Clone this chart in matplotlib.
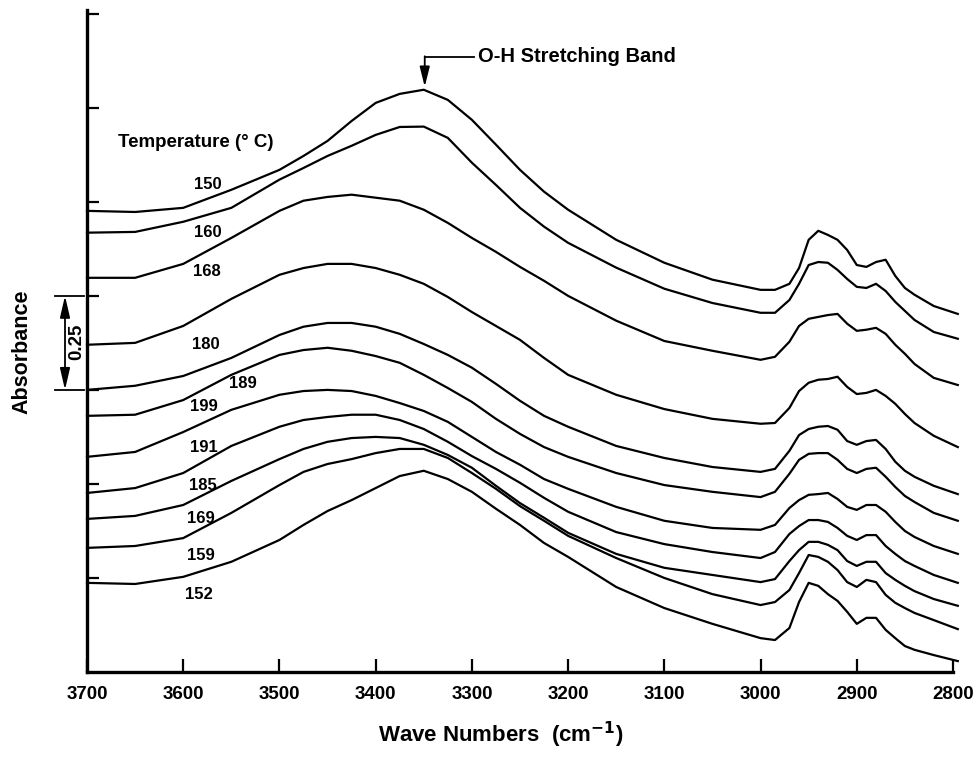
import matplotlib
matplotlib.use('Agg')
import matplotlib.pyplot as plt
from matplotlib.transforms import blended_transform_factory

plt.rcParams['font.family'] = ['Liberation Sans', 'DejaVu Sans']
plt.rcParams['font.weight'] = 'bold'

# wave numbers (cm-1) at which the spectra were read
wavenumber = [3700, 3650, 3600, 3550, 3500, 3475, 3450, 3425, 3400, 3375,
              3350, 3325, 3300, 3275, 3250, 3225, 3200, 3150, 3100, 3050,
              3000, 2985, 2970, 2960, 2950, 2940, 2930, 2920, 2910, 2900,
              2890, 2880, 2870, 2860, 2850, 2840, 2820, 2795]

# absorbance of each trace, top to bottom (offset stack)
a150 = [1.226, 1.223, 1.234, 1.282, 1.335, 1.372, 1.412, 1.465, 1.513, 1.537,
        1.548, 1.521, 1.468, 1.402, 1.335, 1.277, 1.229, 1.149, 1.088, 1.043,
        1.016, 1.016, 1.032, 1.074, 1.149, 1.173, 1.162, 1.149, 1.122, 1.082,
        1.077, 1.090, 1.096, 1.053, 1.021, 1.003, 0.973, 0.952]
a160 = [1.168, 1.170, 1.197, 1.234, 1.309, 1.340, 1.372, 1.399, 1.428, 1.449,
        1.450, 1.420, 1.354, 1.295, 1.234, 1.184, 1.141, 1.075, 1.019, 0.981,
        0.955, 0.955, 0.989, 1.032, 1.082, 1.090, 1.088, 1.069, 1.045, 1.024,
        1.021, 1.032, 1.013, 0.984, 0.960, 0.936, 0.904, 0.886]
a168 = [1.048, 1.048, 1.085, 1.154, 1.226, 1.253, 1.263, 1.269, 1.261, 1.253,
        1.229, 1.194, 1.154, 1.117, 1.077, 1.040, 1.000, 0.934, 0.880, 0.854,
        0.830, 0.838, 0.878, 0.920, 0.939, 0.944, 0.949, 0.952, 0.926, 0.907,
        0.910, 0.915, 0.899, 0.870, 0.846, 0.819, 0.782, 0.763]
a180 = [0.870, 0.875, 0.920, 0.992, 1.056, 1.074, 1.085, 1.085, 1.074, 1.056,
        1.032, 0.997, 0.957, 0.920, 0.883, 0.835, 0.790, 0.737, 0.699, 0.673,
        0.660, 0.662, 0.702, 0.747, 0.769, 0.777, 0.779, 0.785, 0.758, 0.739,
        0.742, 0.750, 0.734, 0.713, 0.686, 0.662, 0.628, 0.598]
a189 = [0.750, 0.761, 0.787, 0.835, 0.896, 0.918, 0.928, 0.928, 0.918, 0.899,
        0.872, 0.843, 0.809, 0.766, 0.721, 0.681, 0.652, 0.601, 0.569, 0.545,
        0.532, 0.540, 0.588, 0.630, 0.646, 0.652, 0.654, 0.644, 0.614, 0.604,
        0.614, 0.617, 0.593, 0.559, 0.535, 0.519, 0.495, 0.473]
a199 = [0.681, 0.684, 0.723, 0.790, 0.843, 0.856, 0.862, 0.854, 0.840, 0.822,
        0.790, 0.755, 0.718, 0.673, 0.633, 0.598, 0.572, 0.529, 0.497, 0.479,
        0.465, 0.479, 0.527, 0.564, 0.580, 0.582, 0.582, 0.564, 0.540, 0.529,
        0.540, 0.543, 0.519, 0.492, 0.468, 0.452, 0.423, 0.402]
a191 = [0.572, 0.585, 0.638, 0.697, 0.737, 0.747, 0.750, 0.747, 0.734, 0.715,
        0.694, 0.665, 0.625, 0.585, 0.551, 0.513, 0.487, 0.439, 0.402, 0.383,
        0.378, 0.391, 0.436, 0.457, 0.471, 0.473, 0.476, 0.460, 0.439, 0.431,
        0.444, 0.444, 0.426, 0.399, 0.375, 0.359, 0.335, 0.314]
a185 = [0.476, 0.489, 0.529, 0.601, 0.652, 0.670, 0.678, 0.684, 0.684, 0.670,
        0.646, 0.612, 0.574, 0.540, 0.503, 0.463, 0.426, 0.372, 0.340, 0.319,
        0.303, 0.319, 0.367, 0.388, 0.404, 0.404, 0.399, 0.383, 0.362, 0.351,
        0.364, 0.364, 0.335, 0.314, 0.295, 0.282, 0.258, 0.237]
a169 = [0.407, 0.415, 0.444, 0.508, 0.566, 0.593, 0.612, 0.622, 0.625, 0.622,
        0.604, 0.577, 0.543, 0.495, 0.449, 0.410, 0.370, 0.314, 0.277, 0.258,
        0.239, 0.247, 0.295, 0.324, 0.346, 0.346, 0.338, 0.324, 0.295, 0.282,
        0.293, 0.293, 0.263, 0.245, 0.229, 0.215, 0.194, 0.176]
a159 = [0.330, 0.335, 0.356, 0.423, 0.497, 0.532, 0.553, 0.566, 0.582, 0.593,
        0.593, 0.569, 0.529, 0.487, 0.441, 0.402, 0.362, 0.303, 0.250, 0.207,
        0.178, 0.186, 0.218, 0.263, 0.311, 0.306, 0.293, 0.271, 0.239, 0.226,
        0.245, 0.239, 0.205, 0.184, 0.170, 0.157, 0.138, 0.114]
a152 = [0.237, 0.234, 0.253, 0.293, 0.351, 0.391, 0.428, 0.457, 0.489, 0.521,
        0.535, 0.513, 0.479, 0.434, 0.391, 0.343, 0.306, 0.226, 0.170, 0.128,
        0.090, 0.085, 0.117, 0.186, 0.237, 0.229, 0.207, 0.189, 0.160, 0.128,
        0.144, 0.144, 0.112, 0.090, 0.069, 0.059, 0.045, 0.029]

temperatures = ['150', '160', '168', '180', '189', '199', '191', '185', '169', '159', '152']
spectra = [a150, a160, a168, a180, a189, a199, a191, a185, a169, a159, a152]

xticks = [3700, 3600, 3500, 3400, 3300, 3200, 3100, 3000, 2900, 2800]
yticks = [0.25, 0.5, 0.75, 1.0, 1.25, 1.5, 1.75]

fig = plt.figure(figsize=(9.76, 7.6), dpi=100)
ax = fig.add_axes([87 / 976, 88 / 760, 866 / 976, 662 / 760])

for a in spectra:
    ax.plot(wavenumber, a, color='black', lw=1.6, clip_on=False)

ax.set_xlim(3700, 2800)
ax.set_ylim(0, 1.76)
ax.set_xticks(xticks)
ax.set_xticklabels([str(t) for t in xticks])
ax.set_yticks(yticks)
ax.spines['top'].set_visible(False)
ax.spines['right'].set_visible(False)
ax.spines['left'].set_linewidth(2.4)
ax.spines['bottom'].set_linewidth(2.4)
ax.tick_params(axis='x', direction='in', length=9.5, width=1.6, pad=10, labelsize=13.5)
ax.tick_params(axis='y', direction='in', length=8.5, width=1.6, labelleft=False)
for lab in ax.get_xticklabels():
    lab.set_fontweight('bold')

# temperature labels
label_pos = [(3574, 1.295), (3574, 1.168), (3575, 1.066), (3577, 0.870),
             (3538, 0.766), (3579, 0.705), (3579, 0.598), (3580, 0.497),
             (3582, 0.407), (3582, 0.311), (3584, 0.205)]
for t, (x, y) in zip(temperatures, label_pos):
    ax.text(x, y, t, fontsize=12, fontweight='bold', ha='center', va='center')
ax.text(3668, 1.407, 'Temperature (° C)', fontsize=13.5, fontweight='bold',
        ha='left', va='center')

# O-H band callout
ax.plot([3349, 3298], [1.636, 1.636], color='black', lw=1.3)
ax.annotate('', xy=(3349, 1.556), xytext=(3349, 1.637),
            arrowprops=dict(arrowstyle='-|>,head_length=1.2,head_width=0.3',
                            color='black', lw=1.3, shrinkA=0, shrinkB=0))
ax.text(3294, 1.636, 'O-H Stretching Band', fontsize=14.5, fontweight='bold',
        ha='left', va='center')

# 0.25 absorbance scale bar
tr = blended_transform_factory(ax.transAxes, ax.transData)
for yy in [0.75, 1.0]:
    ax.plot([-0.037, -0.004], [yy, yy], color='black', lw=1.3,
            transform=tr, clip_on=False)
ax.annotate('', xy=(-0.0254, 1.0), xytext=(-0.0254, 0.75), xycoords=tr, textcoords=tr,
            arrowprops=dict(arrowstyle='<|-|>,head_length=1.3,head_width=0.3',
                            color='black', lw=1.3, shrinkA=0, shrinkB=0))
ax.text(-0.0115, 0.877, '0.25', transform=tr, rotation=90, fontsize=13.5,
        fontweight='bold', ha='center', va='center')

fig.text(22 / 976, 1 - 352 / 760, 'Absorbance', rotation=90, fontsize=15.5,
         fontweight='bold', ha='center', va='center')
fig.text(501 / 976, 1 - 735 / 760, 'Wave Numbers  (cm$^{\\mathbf{-1}}$)', fontsize=16,
         fontweight='bold', ha='center', va='center')

fig.savefig('out.png', dpi=100)
